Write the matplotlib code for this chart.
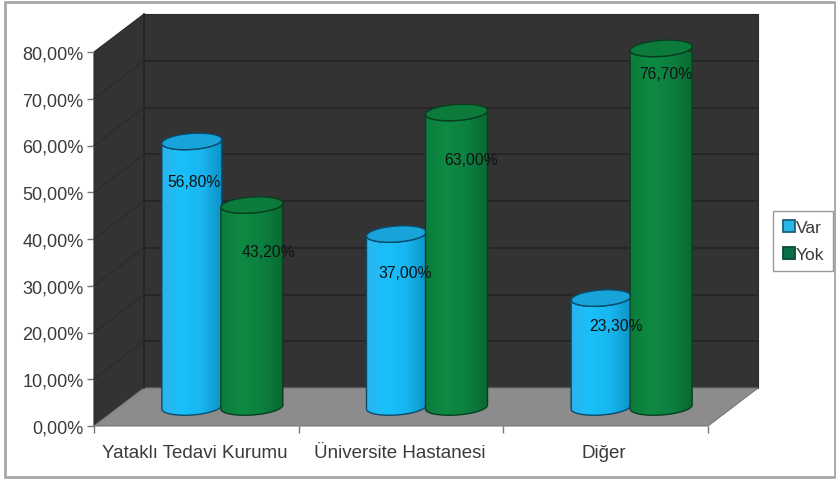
import numpy as np
import matplotlib
matplotlib.use("Agg")
import matplotlib.pyplot as plt
from matplotlib.colors import LinearSegmentedColormap
from matplotlib.patches import Rectangle, Polygon
from matplotlib.lines import Line2D

plt.rcParams['font.family'] = ['Liberation Sans', 'DejaVu Sans']

categories = ["Yataklı Tedavi Kurumu", "Üniversite Hastanesi", "Diğer"]
series_names = ["Var", "Yok"]
var_values = [56.8, 37.0, 23.3]
yok_values = [43.2, 63.0, 76.7]
var_labels = ["56,80%", "37,00%", "23,30%"]
yok_labels = ["43,20%", "63,00%", "76,70%"]
y_ticks = [0, 10, 20, 30, 40, 50, 60, 70, 80]
y_tick_labels = ["0,00%", "10,00%", "20,00%", "30,00%", "40,00%", "50,00%", "60,00%", "70,00%", "80,00%"]

W, H = 837, 481
fig = plt.figure(figsize=(W / 100, H / 100), dpi=100, facecolor='white')
L, R, B, T = 94, 708, 427, 53
ax = fig.add_axes([L / W, (H - B) / H, (R - L) / W, (B - T) / H])
ax.set_xlim(0, 3)
ax.set_ylim(0, 80)
ax.patch.set_visible(False)
for s in ax.spines.values():
    s.set_visible(False)

px = 3 / (R - L)
py = 80 / (B - T)
DX, DY = 50 * px, 38 * py

# outer frame
fig.add_artist(Rectangle((4.5 / W, 3 / H), 831 / W, 475 / H, transform=fig.transFigure,
                         fill=False, ec='#a8a8a8', lw=2))

WALL = '#333333'
kw = dict(clip_on=False)
ax.add_patch(Polygon([(0, 0), (0, 80), (DX, 80 + DY), (DX, DY)], fc=WALL, ec='#2a2a2a', lw=0.8, zorder=1, **kw))
ax.add_patch(Polygon([(DX, DY), (DX, 80 + DY), (3 + DX, 80 + DY), (3 + DX, DY)], fc=WALL, ec='#2a2a2a', lw=0.8, zorder=1, **kw))
ax.add_patch(Polygon([(0, 0), (DX, DY), (3 + DX, DY), (3, 0)], fc='#8c8c8c', ec='#777777', lw=0.8, zorder=1, **kw))
for v in y_ticks[1:-1]:
    ax.plot([0, DX], [v, v + DY], color='#2b2b2b', lw=1.0, zorder=2, **kw)
    ax.plot([DX, 3 + DX], [v + DY, v + DY], color='#242424', lw=1.2, zorder=2, **kw)
ax.plot([DX, DX], [DY, 80 + DY], color='#262626', lw=1.2, zorder=2, **kw)


def cylinder(cx, value, half_px, cmap, top_color, edge, z):
    a = half_px * px
    b = 8 * py
    skew = 2 * py
    base_x = cx + DX / 2
    base_y = DY / 2
    t = np.linspace(np.pi, 2 * np.pi, 60)
    xb = base_x + a * np.cos(t)
    yb = base_y + b * np.sin(t) + skew * np.cos(t)
    yt_top = base_y + value
    outline_x = np.r_[xb, xb[::-1]]
    outline_y = np.r_[yb, yt_top + b * np.sin(t[::-1]) + skew * np.cos(t[::-1])]
    poly = Polygon(np.c_[outline_x, outline_y], fc='none', ec=edge, lw=1.0, zorder=z + 0.2, clip_on=False)
    im = ax.imshow(np.linspace(0, 1, 128).reshape(1, -1), cmap=cmap, aspect='auto',
                   extent=(base_x - a, base_x + a, base_y - b - skew, yt_top + b + skew),
                   interpolation='bilinear', zorder=z, clip_on=True)
    im.set_clip_path(Polygon(np.c_[outline_x, outline_y], transform=ax.transData))
    ax.add_patch(poly)
    tt = np.linspace(0, 2 * np.pi, 120)
    ax.add_patch(Polygon(np.c_[base_x + a * np.cos(tt), yt_top + b * np.sin(tt) + skew * np.cos(tt)],
                         fc=top_color, ec=edge, lw=1.0, zorder=z + 0.3, clip_on=False))


blue = LinearSegmentedColormap.from_list('b', ['#2cb4ee', '#19c0fa', '#18b6ef', '#0b93c6'])
green = LinearSegmentedColormap.from_list('g', ['#0a7c3c', '#0e8a42', '#0c8040', '#0a6a32'])
for i in range(3):
    c = i + 0.5
    cylinder(c - 29.5 * px, var_values[i], 30, blue, '#18a4da', '#0b4a6a', 3 + i * 2)
    cylinder(c + 30.5 * px, yok_values[i], 31, green, '#0c7a3a', '#063f20', 4 + i * 2)

# value labels (pixel-placed centres)
label_x = [[194, 405, 616], [268, 471, 666]]
label_y = [[183, 273, 327], [253, 161, 75]]
for k, labs in enumerate([var_labels, yok_labels]):
    for i, s in enumerate(labs):
        ax.text((label_x[k][i] - L) * px, (B - label_y[k][i]) * py, s, ha='center', va='center',
                fontsize=11.3, color='#111111', zorder=20, clip_on=False)

# axes ticks
ax.set_yticks(y_ticks)
ax.set_yticklabels(y_tick_labels, fontsize=13, color='#3a3a3a')
ax.set_xticks([0, 1, 2, 3])
ax.set_xticklabels([])
ax.tick_params(axis='both', length=5, width=1, color='#777777', pad=2.5)
for i, c in enumerate(categories):
    ax.text(i + 0.5 - 1.5 * px, -3.9, c, ha='center', va='top', fontsize=13.5, color='#3a3a3a', clip_on=False)

# legend
handles = [Line2D([], [], ls='none', marker='s', ms=8, mfc='#29b6e8', mec='#1a5f80', mew=1.3),
           Line2D([], [], ls='none', marker='s', ms=8, mfc='#0a6e48', mec='#0a4a38', mew=1.3)]
leg = fig.legend(handles, series_names, loc='upper left', bbox_to_anchor=(773 / W, (H - 212) / H),
                 borderaxespad=0, frameon=True, fancybox=False, edgecolor='#808080', facecolor='white',
                 fontsize=12.5, labelcolor='#3a3a3a', handletextpad=-0.1, handlelength=0.9,
                 borderpad=0.5, labelspacing=0.7)
leg.get_frame().set_linewidth(1)

fig.savefig('out.png', dpi=100, facecolor='white')
